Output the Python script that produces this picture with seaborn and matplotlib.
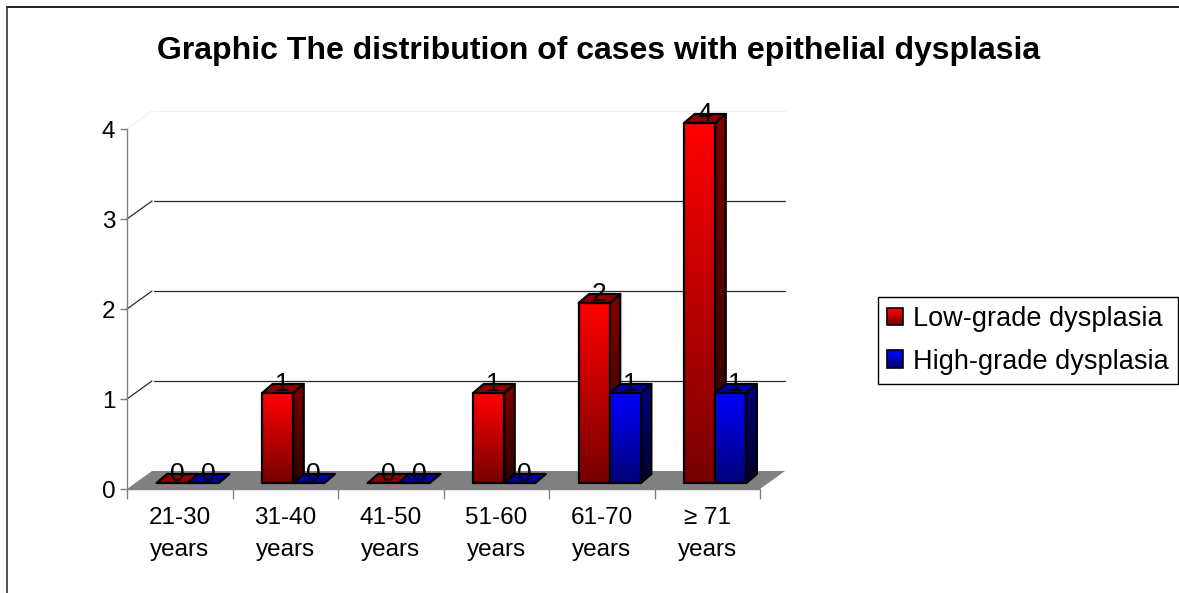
import numpy as np
import pandas as pd
import matplotlib
matplotlib.use("Agg")
import matplotlib.pyplot as plt
import seaborn as sns
from matplotlib.lines import Line2D
from matplotlib.patches import Polygon, Rectangle
from matplotlib.transforms import Affine2D, IdentityTransform

title = "Graphic The distribution of cases with epithelial dysplasia"
age_groups = ["21-30\nyears", "31-40\nyears", "41-50\nyears", "51-60\nyears", "61-70\nyears", "≥ 71\nyears"]
low_grade = [0, 1, 0, 1, 2, 4]
high_grade = [0, 0, 0, 0, 1, 1]
series_names = ["Low-grade dysplasia", "High-grade dysplasia"]
y_ticks = [0, 1, 2, 3, 4]

W, H = 1179, 593

sns.set_theme(style="white")
plt.rcParams["font.family"] = ["Liberation Sans", "DejaVu Sans"]

df = pd.DataFrame({
    "age": age_groups * 2,
    "cases": low_grade + high_grade,
    "grade": [series_names[0]] * 6 + [series_names[1]] * 6,
})

fig = plt.figure(figsize=(W / 100, H / 100), dpi=100)
ax = fig.add_axes([127 / W, (H - 489) / H, 633 / W, 360 / H])
sns.barplot(data=df, x="age", y="cases", hue="grade", palette=["red", "blue"],
            width=0.59, gap=0, legend=False, ax=ax)
ax.set_xlim(-0.5, 5.5)
ax.set_ylim(0, 4)
ax.set_xlabel("")
ax.set_ylabel("")

# axes look
for side in ["top", "right"]:
    ax.spines[side].set_visible(False)
for side in ["left", "bottom"]:
    ax.spines[side].set_color("#808080")
    ax.spines[side].set_linewidth(1)
ax.set_yticks(y_ticks)
ax.tick_params(axis="y", length=5, width=1, color="#808080", labelsize=17.5, labelcolor="black", pad=3.5, left=True)
ax.set_xticks(np.arange(-0.5, 6, 1))
ax.set_xticklabels([])
ax.tick_params(axis="x", which="major", length=7, width=1, color="#808080", bottom=True)
ax.set_xticks(np.arange(6), labels=age_groups, minor=True)
ax.tick_params(axis="x", which="minor", length=0, labelsize=17.5, labelcolor="black", pad=13)
for t in ax.get_xticklabels(minor=True):
    t.set_linespacing(1.6)

# 3d planes, offsets in pixels
back = ax.transData + Affine2D().translate(25, 18)
front_bars = ax.transData + Affine2D().translate(8, 6)
dx, dy = 10.5, 9

floor = [(-0.5, 0), (5.5, 0)]
p0 = ax.transData.transform(floor)
p1 = back.transform(floor)
ax.add_patch(Polygon([p0[0], p0[1], p1[1], p1[0]], closed=True, transform=IdentityTransform(),
                     facecolor="#808080", edgecolor="none", clip_on=False, zorder=1.5))
for v in y_ticks[1:]:
    col = "#f0f0f0" if v == 4 else "#2a2a2a"
    a = ax.transData.transform((-0.5, v))
    b = back.transform((-0.5, v))
    c = back.transform((5.5, v))
    ax.plot([a[0], b[0]], [a[1], b[1]], transform=IdentityTransform(), color=col, lw=0.9, clip_on=False, zorder=1.6)
    ax.plot([b[0] + 2, c[0]], [b[1], c[1]], transform=IdentityTransform(), color=col, lw=0.9, clip_on=False, zorder=1.6)


def gradient_face(corners, top_col, bot_col, z):
    # polygon in pixels filled with a vertical gradient
    corners = np.array(corners)
    ramp = np.linspace(0, 1, 64)[:, None, None]
    img = (1 - ramp) * np.array(top_col)[None, None, :] + ramp * np.array(bot_col)[None, None, :]
    ext = [corners[:, 0].min(), corners[:, 0].max(), corners[:, 1].min(), corners[:, 1].max()]
    im = ax.imshow(img, extent=ext, origin="upper", aspect="auto", transform=IdentityTransform(),
                   zorder=z, interpolation="bilinear")
    clip = Polygon(corners, closed=True, transform=IdentityTransform())
    im.set_clip_path(clip)
    im.set_clip_box(fig.bbox)
    ax.add_patch(Polygon(corners, closed=True, transform=IdentityTransform(), facecolor="none",
                         edgecolor="black", lw=1.6, clip_on=False, zorder=z + 0.01, joinstyle="round"))


shades = [
    dict(front=((1, 0, 0), (0.47, 0, 0)), side=((0.5, 0, 0), (0.17, 0, 0)), top=(0.55, 0, 0)),
    dict(front=((0, 0, 1), (0, 0, 0.47)), side=((0, 0, 0.5), (0, 0, 0.17)), top=(0, 0, 0.62)),
]

z = 3
for cat in range(len(age_groups)):
    for s, cont in enumerate(ax.containers):
        bar = cont[cat]
        bar.set_visible(False)
        x0, w, h = bar.get_x(), bar.get_width(), bar.get_height()
        (xl, yb), (xr, yt) = front_bars.transform([(x0, 0), (x0 + w, h)])
        sh = shades[s]
        z += 0.1
        if h > 0:
            gradient_face([(xr, yb), (xr + dx, yb + dy), (xr + dx, yt + dy), (xr, yt)], *sh["side"], z)
        gradient_face([(xl, yt), (xr, yt), (xr + dx, yt + dy), (xl + dx, yt + dy)], sh["top"], sh["top"], z + 0.02)
        if h > 0:
            gradient_face([(xl, yb), (xr, yb), (xr, yt), (xl, yt)], *sh["front"], z + 0.04)
        ax.text((xl + xr) / 2 + 5, yt + 2, str(int(h)), transform=IdentityTransform(), ha="center", va="baseline",
                fontsize=19, color="black", zorder=20, clip_on=False)

ax.set_xlim(-0.5, 5.5)
ax.set_ylim(0, 4)

fig.text(598.5 / W, (H - 51) / H, title, ha="center", va="center", fontsize=23, fontweight="bold", color="black")

# chart frame, only left and top show in the crop
fig.add_artist(Line2D([6.5 / W, 6.5 / W], [0, (H - 6.5) / H], color="#222222", lw=1.1, transform=fig.transFigure))
fig.add_artist(Line2D([6.5 / W, 1], [(H - 6.8) / H, (H - 6.8) / H], color="#222222", lw=1.4, transform=fig.transFigure))

# legend
handles = [Rectangle((0, 0), 1, 1, facecolor=c, edgecolor="black", lw=1.2) for c in ["red", "blue"]]
leg = fig.legend(handles, series_names, loc="center right", bbox_to_anchor=(1178 / W, (H - 340.5) / H),
                 borderaxespad=0, fontsize=19.5, handlelength=0.6, handleheight=0.6, handletextpad=0.37,
                 labelspacing=0.6, borderpad=0.33, fancybox=False, framealpha=1, edgecolor="black",
                 labelcolor="black")
leg.get_frame().set_linewidth(1)
fig.canvas.draw()
for handle, sh in zip(leg.legend_handles, shades):
    box = handle.get_window_extent()
    n = int(round(box.height)) - 2
    m = int(round(box.width)) - 2
    ramp = np.linspace(0, 1, n)[:, None, None]
    img = (1 - ramp) * np.array(sh["front"][0])[None, None, :] + ramp * np.array(sh["front"][1])[None, None, :]
    img = np.repeat(img, m, axis=1)
    fig.figimage(img, xo=int(round(box.x0)) + 1, yo=int(round(box.y0)) + 1, origin="upper", zorder=30)

fig.savefig("out.png", dpi=100)
